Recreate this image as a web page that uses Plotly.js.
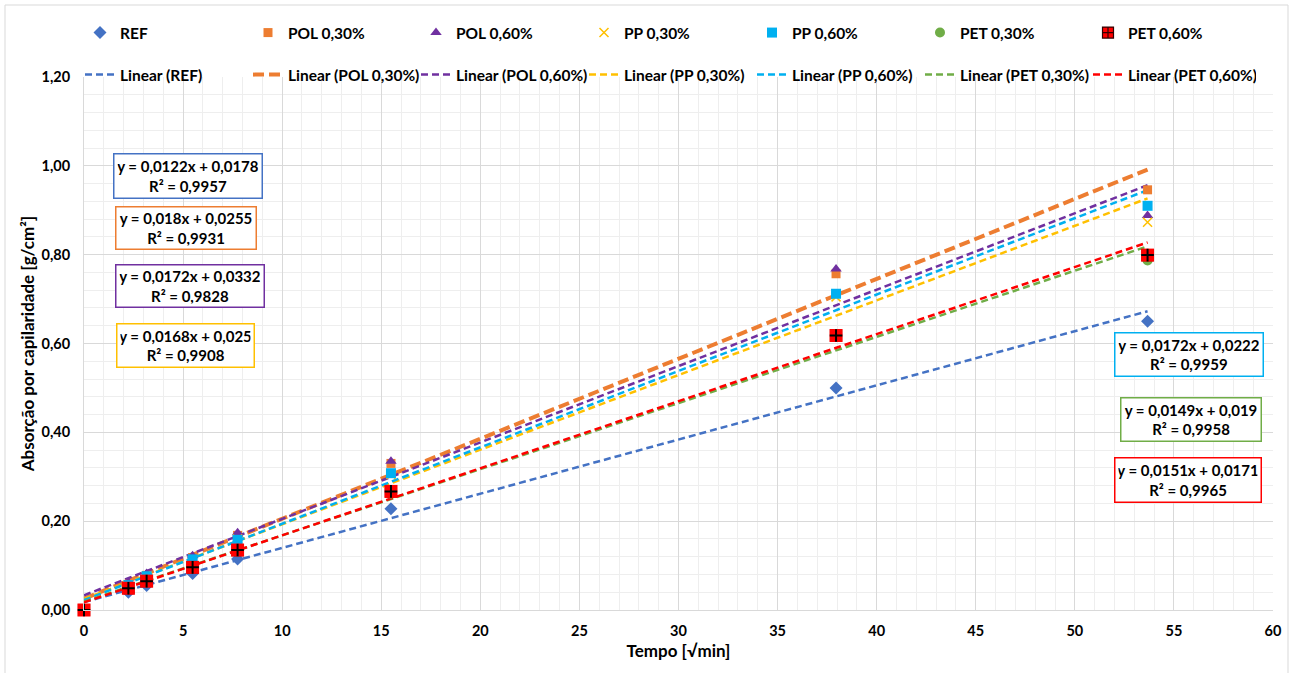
<!DOCTYPE html>
<html><head><meta charset="utf-8">
<script src="https://cdn.plot.ly/plotly-3.0.1.min.js"></script>
<style>html,body{margin:0;padding:0;background:#fff}</style>
</head><body><div id="chart" style="width:1291px;height:673px"></div>
<script>
// ---- data ----
const tempo = [0, 2.24, 3.16, 5.48, 7.75, 15.49, 37.95, 53.67];
const seriesNames = ['REF', 'POL 0,30%', 'POL 0,60%', 'PP 0,30%', 'PP 0,60%', 'PET 0,30%', 'PET 0,60%'];
const ref    = [0, 0.040, 0.055, 0.082, 0.115, 0.228, 0.500, 0.650];
const pol030 = [0, 0.058, 0.078, 0.118, 0.168, 0.330, 0.757, 0.946];
const pol060 = [0, 0.062, 0.082, 0.122, 0.174, 0.335, 0.768, 0.888];
const pp030  = [0, 0.055, 0.075, 0.112, 0.160, 0.305, 0.705, 0.873];
const pp060  = [0, 0.056, 0.076, 0.114, 0.158, 0.308, 0.712, 0.910];
const pet030 = [0, 0.047, 0.062, 0.093, 0.132, 0.262, 0.615, 0.787];
const pet060 = [0, 0.049, 0.065, 0.096, 0.135, 0.267, 0.618, 0.799];
const slopes     = [0.0122, 0.018, 0.0172, 0.0168, 0.0172, 0.0149, 0.0151];
const intercepts = [0.0178, 0.0255, 0.0332, 0.025, 0.0222, 0.019, 0.0171];
const r2         = [0.9957, 0.9931, 0.9828, 0.9908, 0.9959, 0.9958, 0.9965];

const values = [ref, pol030, pol060, pp030, pp060, pet030, pet060];

// ---- styles ----
const colors = ['#4472C4', '#ED7D31', '#7030A0', '#FFC000', '#00B0F0', '#70AD47', '#FF0000'];
const markerStyles = [
  {symbol: 'diamond', size: 10, color: colors[0]},
  {symbol: 'square', size: 9, color: colors[1]},
  {symbol: 'triangle-up', size: 10, color: colors[2]},
  {symbol: 'x-thin', size: 9, color: colors[3], line: {color: colors[3], width: 1.5}},
  {symbol: 'square', size: 10, color: colors[4]},
  {symbol: 'circle', size: 10, color: colors[5]},
  {symbol: 'square-cross', size: 11, color: colors[6], line: {color: '#300', width: 1.2}}
];
const FONT = 'Lato, "Open Sans", sans-serif';

const fmt = v => String(v).replace('.', ',');
const xmax = Math.max(...tempo);

const traces = [];
// trend lines
for (let i = 0; i < seriesNames.length; i++) {
  const thick = i === 1;
  traces.push({
    type: 'scatter', mode: 'lines',
    x: [0, xmax],
    y: [intercepts[i], intercepts[i] + slopes[i] * xmax],
    name: 'Linear (' + seriesNames[i] + ')',
    legend: 'legend2',
    line: {color: colors[i], width: thick ? 4 : 2.5, dash: thick ? '11px,5px' : '7px,4px'},
    hoverinfo: 'skip'
  });
}
// markers
for (let i = 0; i < seriesNames.length; i++) {
  traces.push({
    type: 'scatter', mode: 'markers',
    x: tempo, y: values[i],
    name: seriesNames[i],
    legend: 'legend',
    marker: markerStyles[i],
    cliponaxis: false
  });
}
// PET 0,60% marker face: red square with a black plus on top
traces.push({
  type: 'scatter', mode: 'markers', x: tempo, y: pet060, showlegend: false,
  marker: {symbol: 'square', size: 13, color: colors[6], line: {width: 0}}, cliponaxis: false, hoverinfo: 'skip'
});
traces.push({
  type: 'scatter', mode: 'markers', x: tempo, y: pet060, showlegend: false,
  marker: {symbol: 'cross-thin', size: 9, color: '#000', line: {color: '#000', width: 2}}, cliponaxis: false, hoverinfo: 'skip'
});

// plot area in px: x 84..1273, y 77..610
const L = 84, R = 1273, T = 77, B = 610;
const px = v => (v - L) / (R - L);
const py = v => (B - v) / (B - T);

// equation boxes (center px, box size)
const boxes = [
  {cx: 188, cy: 176, w: 150, h: 46},
  {cx: 186, cy: 228, w: 142, h: 44},
  {cx: 190, cy: 286, w: 150, h: 44},
  {cx: 185.5, cy: 345.5, w: 139, h: 45},
  {cx: 1189, cy: 354.5, w: 150, h: 45},
  {cx: 1191, cy: 419.5, w: 142, h: 45},
  {cx: 1188, cy: 480, w: 148, h: 46}
];
const annotations = boxes.map((b, i) => ({
  xref: 'paper', yref: 'paper', x: px(b.cx), y: py(b.cy),
  xanchor: 'center', yanchor: 'middle', showarrow: false,
  text: 'y = ' + fmt(slopes[i]) + 'x + ' + fmt(intercepts[i]) + '<br>R² = ' + fmt(r2[i]),
  font: {family: FONT, size: 15, color: '#000', weight: 'bold'},
  bgcolor: '#fff', bordercolor: colors[i], borderwidth: 1.5, borderpad: 3,
  width: b.w - 9, height: b.h - 9, align: 'center'
}));

const legendCommon = {
  orientation: 'h', xanchor: 'left', yanchor: 'middle',
  x: px(80), entrywidth: 123, entrywidthmode: 'pixels',
  bgcolor: 'rgba(0,0,0,0)', borderwidth: 0,
  font: {family: FONT, size: 15.5, color: '#000', weight: 'bold'}
};

const layout = {
  width: 1291, height: 673,
  margin: {l: L, r: 1291 - R, t: T, b: 673 - B, pad: 0},
  paper_bgcolor: '#fff', plot_bgcolor: '#fff',
  separators: ',.',
  font: {family: FONT, size: 14, color: '#000', weight: 'bold'},
  showlegend: true,
  legend: Object.assign({}, legendCommon, {y: py(33)}),
  legend2: Object.assign({}, legendCommon, {y: py(75)}),
  xaxis: {
    range: [0, 60], dtick: 5, tick0: 0, tickformat: 'd',
    showgrid: true, gridcolor: '#D9D9D9', gridwidth: 1,
    minor: {dtick: 1, showgrid: true, gridcolor: '#EEEEEE', gridwidth: 1},
    showline: true, linecolor: '#D9D9D9', linewidth: 1,
    zeroline: false, ticks: '', ticklabelstandoff: 8,
    tickfont: {family: FONT, size: 14.5, color: '#000', weight: 'bold'},
    title: {text: 'Tempo [√min]', standoff: 6, font: {family: FONT, size: 17, color: '#000', weight: 'bold'}}
  },
  yaxis: {
    range: [0, 1.2], dtick: 0.2, tick0: 0, tickformat: '.2f',
    showgrid: true, gridcolor: '#D9D9D9', gridwidth: 1,
    minor: {dtick: 0.04, showgrid: true, gridcolor: '#EEEEEE', gridwidth: 1},
    showline: true, linecolor: '#D9D9D9', linewidth: 1,
    zeroline: false, ticks: '', ticklabelstandoff: 10,
    tickfont: {family: FONT, size: 14.5, color: '#000', weight: 'bold'},
    title: {text: 'Absorção por capilaridade [g/cm²]', standoff: 2, font: {family: FONT, size: 17, color: '#000', weight: 'bold'}}
  },
  annotations: annotations,
  shapes: [{
    type: 'rect', xref: 'paper', yref: 'paper',
    x0: px(5), x1: px(1288), y0: py(700), y1: py(5),
    line: {color: '#D9D9D9', width: 1}, fillcolor: 'rgba(0,0,0,0)', layer: 'below'
  }]
};

Plotly.newPlot('chart', traces, layout, {displayModeBar: false, staticPlot: true});
</script>
</body></html>
